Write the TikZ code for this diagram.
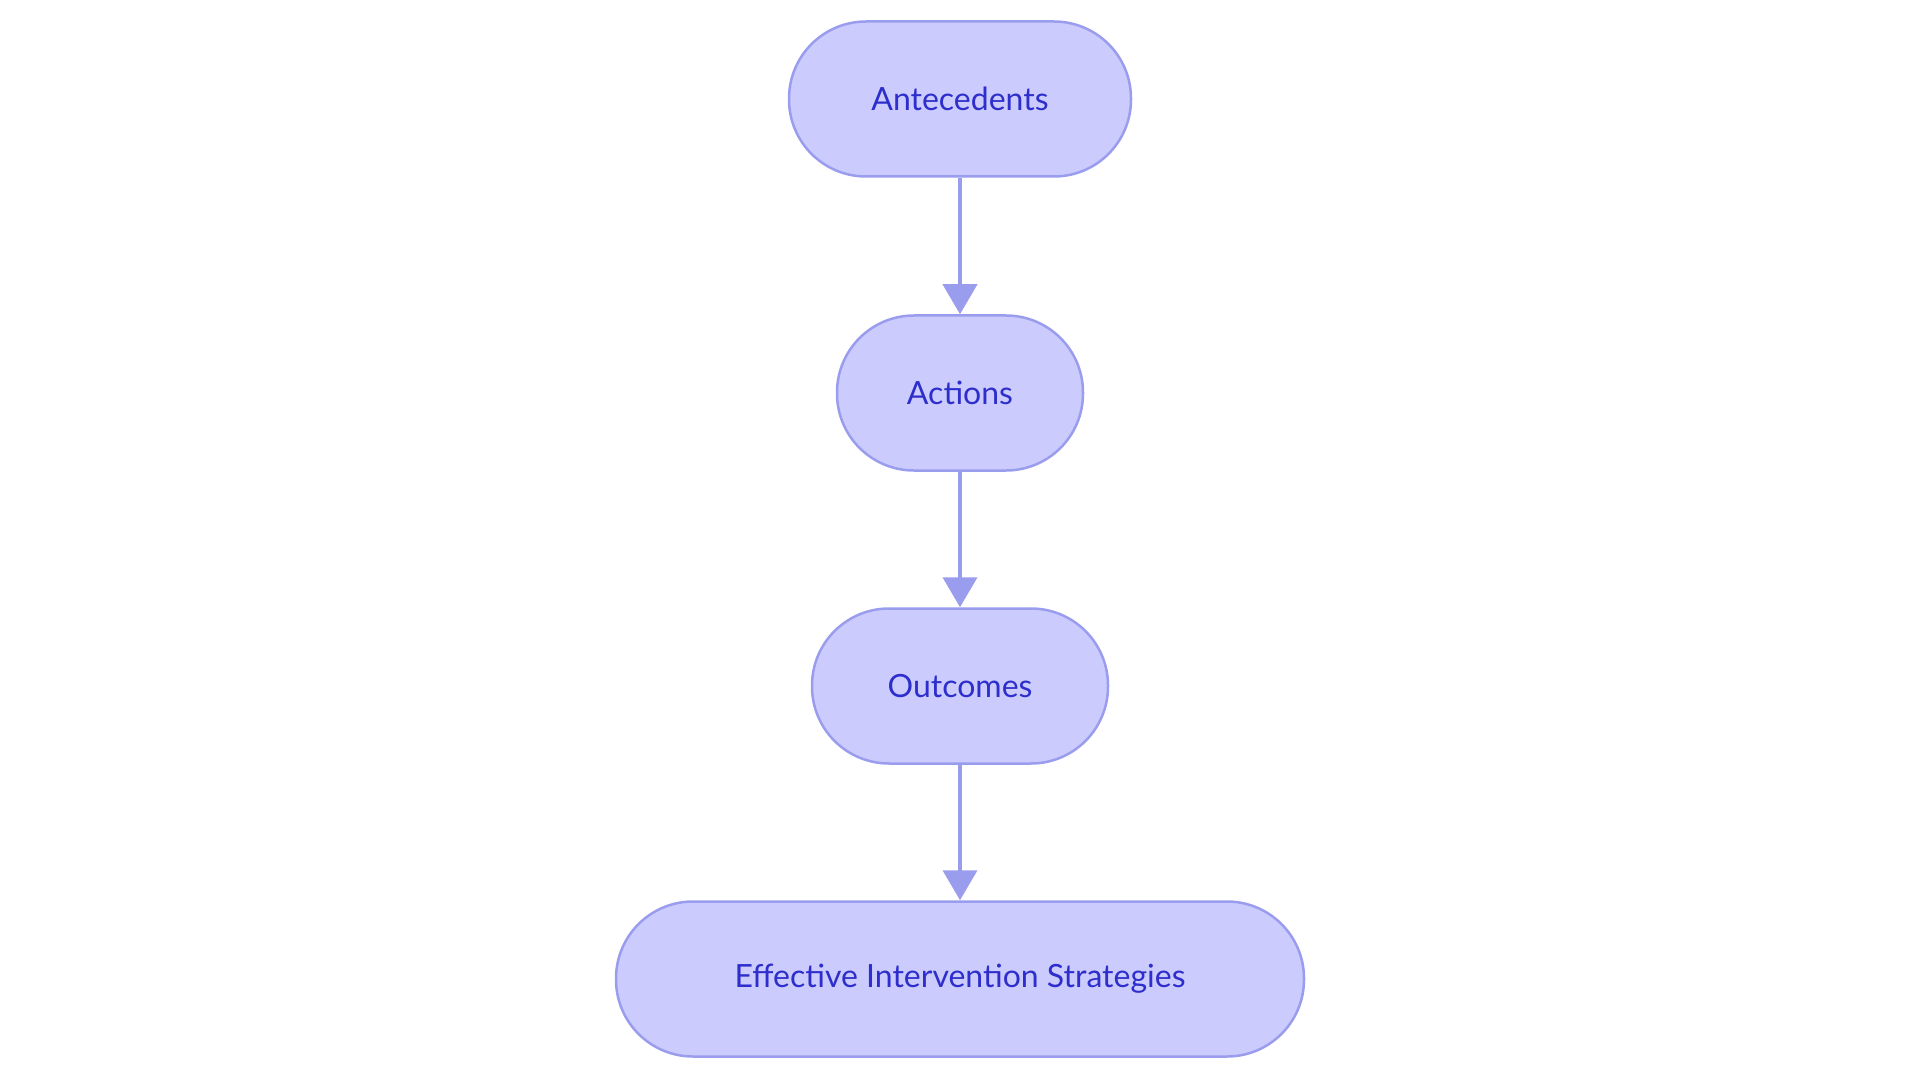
\documentclass[tikz,border=0pt]{standalone}
\usepackage{fontspec}
\setmainfont{Lato}
\usetikzlibrary{arrows.meta}
\definecolor{boxfill}{HTML}{CBCCFD}
\definecolor{boxline}{HTML}{9A9DEE}
\definecolor{boxtext}{HTML}{2E2ECC}
\begin{document}
\begin{tikzpicture}[
            x=1pt, y=1pt,
            every node/.style={text centered, font=\fontsize{32}{38}\selectfont, text=boxtext},
            stage/.style={rectangle, rounded corners=77pt, draw=boxline, line width=2.5pt, fill=boxfill, minimum height=155pt, inner sep=0pt},
            flow/.style={draw=boxline, line width=4pt, -{Triangle[length=30pt,width=34pt]}}
        ]
            \useasboundingbox (0,0) rectangle (1920,-1083);
            % Nodes
            \node (ante) [stage, minimum width=342pt] at (960,-99) {Antecedents};
            \node (act) [stage, minimum width=246pt] at (960,-393) {Actions};
            \node (out) [stage, minimum width=296pt] at (960,-686) {Outcomes};
            \node (eff) [stage, minimum width=688pt] at (960,-979) {Effective Intervention Strategies};

            % Arrows
            \draw [flow] (ante) -- (act);
            \draw [flow] (act) -- (out);
            \draw [flow] (out) -- (eff);
        \end{tikzpicture}
\end{document}
